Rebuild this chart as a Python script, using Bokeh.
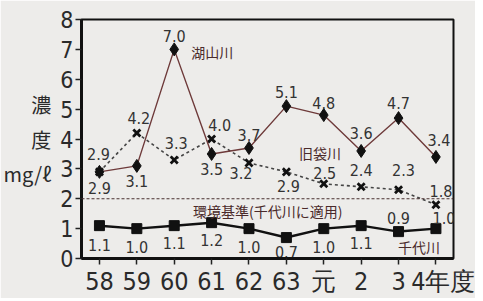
from bokeh.plotting import figure
from bokeh.models import ColumnDataSource, Range1d, FixedTicker, Span
from bokeh.core.properties import value
from bokeh.embed import file_html
from bokeh.resources import INLINE

years = ["58", "59", "60", "61", "62", "63", "元", "2", "3", "4"]
year_suffix = "年度"
y_title = "濃\n度\nmg/ℓ"
koyama = [2.9, 3.1, 7.0, 3.5, 3.7, 5.1, 4.8, 3.6, 4.7, 3.4]
kyufukuro = [2.9, 4.2, 3.3, 4.0, 3.2, 2.9, 2.5, 2.4, 2.3, 1.8]
sendai = [1.1, 1.0, 1.1, 1.2, 1.0, 0.7, 1.0, 1.1, 0.9, 1.0]
standard = 2.0

# label placement (screen px, + = down)
koyama_dy = [16, 15, -13, 15, -13, -14, -12, -18, -15, -17]
koyama_dx = [0, 0, 0, 0, 0, 0, 0, 0, 0, 3]
kyu_dy = [-18, -15, -17, -14, 10, 14, -11, -17, -20, -14]
kyu_dx = [-1, 2, 2, 8, -8, 2, 1, 0, 5, 5]
sen_dy = [19, 18, 17, 17, 18, 14, 18, 17, -14, -11]
sen_dx = [0, 0, 0, 0, 0, 0, 0, 0, 0, 8]

xs = list(range(len(years)))
NARROW = "DejaVu Sans Condensed"
CJK = "Noto Sans CJK JP"
BG = "#edecea"
W, H = 475, 298

p = figure(width=W, height=H, output_backend="svg",
           toolbar_location=None, x_range=Range1d(-0.48, 9.47),
           y_range=Range1d(0, 8), min_border_left=78, min_border_right=22,
           min_border_top=19, min_border_bottom=39)
p.background_fill_color = BG
p.border_fill_color = BG
p.outline_line_color = "#111111"
p.outline_line_width = 2
p.xgrid.visible = False
p.ygrid.visible = False

for ax in (p.xaxis, p.yaxis):
    ax.axis_line_width = 3
    ax.axis_line_color = "#111111"
    ax.major_tick_line_color = "#222222"
    ax.major_tick_line_width = 1.5
    ax.minor_tick_line_color = None
    ax.major_tick_in = 0
    ax.major_tick_out = 6
    ax.major_label_text_font = NARROW
    ax.major_label_text_color = "#2a2a2a"

# the last year carries the "年度" unit; full-width spaces keep the digit centred
labels = {i: y for i, y in enumerate(years)}
labels[len(years) - 1] = "\u3000\u3000" + years[-1] + year_suffix
p.xaxis.ticker = FixedTicker(ticks=xs)
p.xaxis.major_label_overrides = labels
p.xaxis.major_label_text_font_size = "25px"
p.xaxis.major_label_standoff = 2
p.yaxis.ticker = FixedTicker(ticks=list(range(0, 9)))
p.yaxis.major_label_text_font_size = "23px"
p.yaxis.major_label_standoff = 2
p.yaxis.axis_label = y_title
p.yaxis.axis_label_orientation = "horizontal"
p.yaxis.axis_label_text_font = CJK
p.yaxis.axis_label_text_font_style = "normal"
p.yaxis.axis_label_text_font_size = "20px"
p.yaxis.axis_label_text_color = "#2a2a2a"
p.yaxis.axis_label_text_align = "center"
p.yaxis.axis_label_standoff = 6

p.add_layout(Span(location=standard, dimension="width", line_color="#4a3030",
                  line_width=1.2, line_dash="3 2"))

src = ColumnDataSource(dict(
    x=xs, k=koyama, f=kyufukuro, s=sendai,
    kt=[f"{v:.1f}" for v in koyama], ft=[f"{v:.1f}" for v in kyufukuro],
    st=[f"{v:.1f}" for v in sendai],
    kdy=koyama_dy, kdx=koyama_dx, fdy=kyu_dy, fdx=kyu_dx, sdy=sen_dy, sdx=sen_dx))

# 旧袋川
p.line("x", "f", source=src, line_color="#444444", line_width=1.6, line_dash="3 3")
p.scatter("x", "f", source=src, marker="x", size=10, line_color="#111111", line_width=2.8)
# 湖山川
p.line("x", "k", source=src, line_color="#6e3a3a", line_width=1.4)
p.scatter("x", "k", source=src, marker="diamond", size=13, fill_color="#111111",
          line_color="#111111")
# 千代川
p.line("x", "s", source=src, line_color="#111111", line_width=2.5)
p.scatter("x", "s", source=src, marker="square", size=10, fill_color="#111111",
          line_color="#111111")

for col, txt, dx, dy in (("k", "kt", "kdx", "kdy"), ("f", "ft", "fdx", "fdy"),
                         ("s", "st", "sdx", "sdy")):
    p.text("x", col, text=txt, source=src, x_offset=dx, y_offset=dy,
           text_align="center", text_baseline="middle", text_font=value(NARROW),
           text_font_size="16px", text_color="#333333")

name_font = value(CJK)
p.text(x=[2], y=[7.0], text=["湖山川"], x_offset=17, y_offset=3, text_align="left",
       text_baseline="middle", text_font=name_font, text_font_size="14px",
       text_color="#4a2a2a")
p.text(x=[5.9], y=[3.53], text=["旧袋川"], text_align="center",
       text_baseline="middle", text_font=name_font, text_font_size="14px",
       text_color="#4a2a2a")
p.text(x=[8.55], y=[0.37], text=["千代川"], text_align="center",
       text_baseline="middle", text_font=name_font, text_font_size="14px",
       text_color="#4a2a2a")
p.text(x=[4.5], y=[1.6], text=["環境基準(千代川に適用)"], text_align="center",
       text_baseline="middle", text_font=name_font, text_font_size="14px",
       text_color="#4a2a2a")

open("out.html", "w").write(file_html(p, INLINE))
